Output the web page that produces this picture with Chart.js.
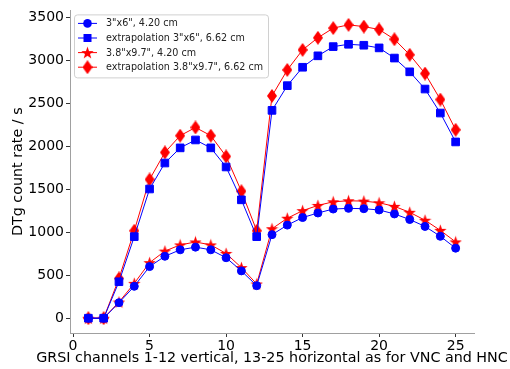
<!DOCTYPE html>
<html>
<head>
<meta charset="utf-8">
<script src="https://cdn.jsdelivr.net/npm/chart.js@4/dist/chart.umd.min.js"></script>
<style>
   html, body { margin: 0; padding: 0; background: #fff; }
   #wrap { width: 510px; height: 369px; position: relative; }
</style>
</head>
<body>
<div id="wrap"><canvas id="chart"></canvas></div>
<script>
'use strict';

const channels = [1, 2, 3, 4, 5, 6, 7, 8, 9, 10, 11, 12, 13, 14, 15, 16, 17, 18, 19, 20, 21, 22, 23, 24, 25];
const small42 = [0, 0, 180, 371, 600, 720, 795, 826, 795, 703, 550, 378, 971, 1082, 1170, 1223, 1269, 1277, 1273, 1258, 1212, 1147, 1067, 952, 814];
const small662 = [0, 0, 424, 948, 1502, 1804, 1980, 2072, 1980, 1758, 1376, 948, 2416, 2703, 2917, 3050, 3157, 3184, 3173, 3142, 3024, 2864, 2664, 2385, 2049];
const large42 = [0, 0, 188, 405, 646, 780, 852, 886, 852, 753, 588, 398, 1040, 1162, 1250, 1311, 1353, 1365, 1361, 1342, 1300, 1231, 1139, 1021, 887];
const large662 = [0, 0, 462, 1017, 1613, 1927, 2122, 2217, 2122, 1881, 1476, 1017, 2584, 2886, 3119, 3260, 3372, 3410, 3390, 3356, 3242, 3062, 2844, 2542, 2190];
const seriesNames = ['3"x6", 4.20 cm', 'extrapolation 3"x6", 6.62 cm', '3.8"x9.7", 4.20 cm', 'extrapolation 3.8"x9.7", 6.62 cm'];
const yTicks = [0, 500, 1000, 1500, 2000, 2500, 3000, 3500];
const xTicks = [0, 5, 10, 15, 20, 25];
const xTitle = 'GRSI channels 1-12 vertical, 13-25 horizontal as for VNC and HNC';

const FONT = 'DejaVu Sans';

function getSeries(xValues, yValues) {
   const result = [];
   for (let i = 0; i < xValues.length; i++) {
      result.push({ x: xValues[i], y: yValues[i] });
   }
   return result;
}

// matplotlib-like star marker
function makeStar(size, color) {
   const c = document.createElement('canvas');
   c.width = size; c.height = size;
   const ctx = c.getContext('2d');
   const cx = size / 2, cy = size / 2 + 0.6;
   const ro = size / 2, ri = ro * 0.4;
   ctx.beginPath();
   for (let i = 0; i < 10; i++) {
      const r = i % 2 === 0 ? ro : ri;
      const a = -Math.PI / 2 + i * Math.PI / 5;
      const px = cx + r * Math.cos(a), py = cy + r * Math.sin(a);
      if (i === 0) ctx.moveTo(px, py); else ctx.lineTo(px, py);
   }
   ctx.closePath();
   ctx.fillStyle = color;
   ctx.fill();
   return c;
}

// thin diamond marker
function makeDiamond(w, h, color) {
   const c = document.createElement('canvas');
   c.width = w; c.height = h;
   const ctx = c.getContext('2d');
   ctx.beginPath();
   ctx.moveTo(w / 2, 0);
   ctx.lineTo(w, h / 2);
   ctx.lineTo(w / 2, h);
   ctx.lineTo(0, h / 2);
   ctx.closePath();
   ctx.fillStyle = color;
   ctx.fill();
   return c;
}

const starImg = makeStar(13, '#ff0000');
const diamondImg = makeDiamond(10, 14, '#ff0000');

function ds(label, values, color, style, radius) {
   return {
      label: label,
      data: getSeries(channels, values),
      borderColor: color,
      backgroundColor: color,
      borderWidth: 1,
      pointStyle: style,
      pointRadius: radius,
      pointBorderWidth: 1,
      pointBorderColor: color,
      pointBackgroundColor: color,
      tension: 0,
      fill: false
   };
}

// legend drawn inside the plot area, matplotlib style
const innerLegend = {
   id: 'innerLegend',
   afterDatasetsDraw(chart) {
      const ctx = chart.ctx;
      const area = chart.chartArea;
      const x0 = area.left + 4, y0 = area.top + 4;
      const w = 194, h = 63;
      ctx.save();
      ctx.fillStyle = 'rgba(255,255,255,0.85)';
      ctx.strokeStyle = '#d0d0d0';
      ctx.lineWidth = 1;
      ctx.beginPath();
      ctx.roundRect(x0 + 0.5, y0 + 0.5, w, h, 3);
      ctx.fill();
      ctx.stroke();
      ctx.font = '9.6px ' + FONT;
      ctx.textBaseline = 'middle';
      chart.data.datasets.forEach(function (d, i) {
         const yy = y0 + 9 + i * 14.6;
         ctx.strokeStyle = d.borderColor;
         ctx.lineWidth = 1;
         ctx.beginPath();
         ctx.moveTo(x0 + 4, yy);
         ctx.lineTo(x0 + 23, yy);
         ctx.stroke();
         const mx = x0 + 13.5;
         ctx.fillStyle = d.borderColor;
         if (d.pointStyle === 'circle') {
            ctx.beginPath();
            ctx.arc(mx, yy, 4.3, 0, Math.PI * 2);
            ctx.fill();
         } else if (d.pointStyle === 'rect') {
            ctx.fillRect(mx - 4, yy - 4, 8, 8);
         } else {
            const img = d.pointStyle;
            ctx.drawImage(img, mx - img.width / 2, yy - img.height / 2);
         }
         ctx.fillStyle = '#222';
         ctx.fillText(d.label, x0 + 32, yy + 0.5);
      });
      ctx.restore();
   }
};

// x axis title, allowed to run past the plot area like matplotlib does
const xLabel = {
   id: 'xLabel',
   afterDraw(chart) {
      const ctx = chart.ctx;
      const area = chart.chartArea;
      ctx.save();
      ctx.font = '14.3px ' + FONT;
      ctx.fillStyle = '#000';
      ctx.textAlign = 'center';
      ctx.textBaseline = 'middle';
      ctx.fillText(xTitle, (area.left + area.right) / 2, 358);
      ctx.restore();
   }
};

const config = {
   type: 'line',
   data: {
      datasets: [
         ds(seriesNames[0], small42, '#0000ff', 'circle', 4),
         ds(seriesNames[1], small662, '#0000ff', 'rect', 5.4),
         ds(seriesNames[2], large42, '#ff0000', starImg, 6),
         ds(seriesNames[3], large662, '#ff0000', diamondImg, 6)
      ]
   },
   options: {
      responsive: false,
      animation: false,
      layout: { padding: { top: 6, right: 36, left: 0, bottom: 0 } },
      plugins: {
         legend: { display: false },
         tooltip: { enabled: false }
      },
      scales: {
         x: {
            type: 'linear',
            min: -0.2,
            max: 26.2,
            afterBuildTicks: function (scale) {
               scale.ticks = xTicks.map(function (v) { return { value: v }; });
            },
            afterFit: function (scale) { scale.height = 36; },
            ticks: {
               color: '#000',
               font: { family: FONT, size: 14 },
               padding: 1,
               maxRotation: 0,
               callback: function (v) { return String(v); }
            },
            grid: {
               drawOnChartArea: false,
               drawTicks: true,
               tickLength: 4,
               color: '#333'
            },
            border: { color: '#a0a0a0', width: 1 },
            title: { display: false }
         },
         y: {
            type: 'linear',
            min: -172,
            max: 3578,
            afterBuildTicks: function (scale) {
               scale.ticks = yTicks.map(function (v) { return { value: v }; });
            },
            afterFit: function (scale) { scale.width = 70; },
            ticks: {
               color: '#000',
               font: { family: FONT, size: 14 },
               padding: 2,
               callback: function (v) { return String(v); }
            },
            grid: {
               drawOnChartArea: false,
               drawTicks: true,
               tickLength: 4,
               color: '#333'
            },
            border: { color: '#a0a0a0', width: 1 },
            title: {
               display: true,
               text: 'DTg count rate / s',
               color: '#000',
               font: { family: FONT, size: 14.3 },
               padding: { top: 10, bottom: 0 }
            }
         }
      }
   },
   plugins: [innerLegend, xLabel]
};

const canvas = document.getElementById('chart');
canvas.width = 510;
canvas.height = 369;
new Chart(canvas, config);
</script>
</body>
</html>
